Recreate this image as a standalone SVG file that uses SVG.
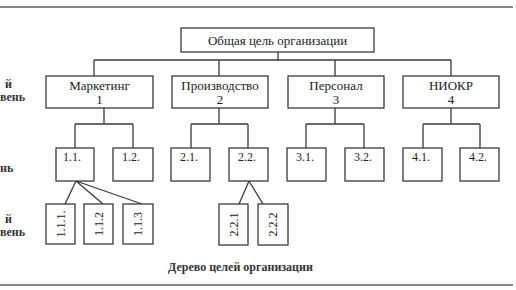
<svg xmlns="http://www.w3.org/2000/svg" width="516" height="290" viewBox="0 0 516 290">
<style>
.b{fill:#fff;stroke:#3a3a3a;stroke-width:1.3}
.c{fill:none;stroke:#3a3a3a;stroke-width:1.3}
.t{font-family:"Liberation Serif","Times New Roman",serif;font-size:13px;fill:#222;text-anchor:middle}
.s{font-family:"Liberation Serif","Times New Roman",serif;font-size:12px;fill:#222;text-anchor:middle}
.l{font-family:"Liberation Serif","Times New Roman",serif;font-size:12px;font-weight:bold;fill:#333}
.rule{stroke:#888;stroke-width:2}
</style>
<rect width="516" height="290" fill="#fff"/>
<line class="rule" x1="0" y1="7" x2="513" y2="7"/>
<line class="rule" x1="0" y1="285" x2="513" y2="285"/>
<g id="side-labels">
<text class="l" x="5" y="88">й</text>
<text class="l" x="0" y="101">вень</text>
<text class="l" x="0" y="172">нь</text>
<text class="l" x="5" y="223">й</text>
<text class="l" x="0" y="236">вень</text>
</g>
<g id="connectors">
<path class="c" d="M278 52V60M94 60H451M94 60V76M219 60V76M335 60V76M451 60V76"/>
<path class="c" d="M104 108V124M75 124H133M75 124V148M133 124V148"/>
<path class="c" d="M219 108V124M191 124H248M191 124V148M248 124V148"/>
<path class="c" d="M335 108V124M306 124H364M306 124V148M364 124V148"/>
<path class="c" d="M451 108V124M423 124H480M423 124V148M480 124V148"/>
<path class="c" d="M76 181L65 204M76 181L103 204M76 181L142 204"/>
<path class="c" d="M249 181L239 204M249 181L263 204"/>
</g>
<g id="root"><rect class="b" x="181" y="28" width="193" height="24"/><text class="t" x="277.5" y="44.5">Общая цель организации</text></g>
<g id="n1"><rect class="b" x="46" y="76" width="107" height="32"/><text class="t" x="99.5" y="90">Маркетинг</text><text class="t" x="99.5" y="104">1</text></g>
<g id="n2"><rect class="b" x="172" y="76" width="96" height="32"/><text class="t" x="220" y="90">Производство</text><text class="t" x="220" y="104">2</text></g>
<g id="n3"><rect class="b" x="288" y="76" width="96" height="32"/><text class="t" x="336" y="90">Персонал</text><text class="t" x="336" y="104">3</text></g>
<g id="n4"><rect class="b" x="403" y="76" width="96" height="32"/><text class="t" x="451" y="90">НИОКР</text><text class="t" x="451" y="104">4</text></g>
<g id="n11"><rect class="b" x="56" y="148" width="38" height="33"/><text class="s" x="72" y="161">1.1.</text></g>
<g id="n12"><rect class="b" x="113" y="148" width="40" height="33"/><text class="s" x="131" y="161">1.2.</text></g>
<g id="n21"><rect class="b" x="171" y="148" width="39" height="33"/><text class="s" x="189" y="161">2.1.</text></g>
<g id="n22"><rect class="b" x="229" y="148" width="39" height="33"/><text class="s" x="247" y="161">2.2.</text></g>
<g id="n31"><rect class="b" x="287" y="148" width="39" height="33"/><text class="s" x="305" y="161">3.1.</text></g>
<g id="n32"><rect class="b" x="345" y="148" width="39" height="33"/><text class="s" x="363" y="161">3.2.</text></g>
<g id="n41"><rect class="b" x="403" y="148" width="39" height="33"/><text class="s" x="421" y="161">4.1.</text></g>
<g id="n42"><rect class="b" x="460" y="148" width="39" height="33"/><text class="s" x="478" y="161">4.2.</text></g>
<g id="n111"><rect class="b" x="46" y="204" width="29" height="40"/><text class="s" transform="translate(64.5 224) rotate(-90)">1.1.1.</text></g>
<g id="n112"><rect class="b" x="84" y="204" width="29" height="40"/><text class="s" transform="translate(102.5 224) rotate(-90)">1.1.2</text></g>
<g id="n113"><rect class="b" x="123" y="204" width="30" height="40"/><text class="s" transform="translate(142 224) rotate(-90)">1.1.3</text></g>
<g id="n221"><rect class="b" x="219" y="204" width="29" height="41"/><text class="s" transform="translate(237.5 224.5) rotate(-90)">2.2.1</text></g>
<g id="n222"><rect class="b" x="258" y="204" width="30" height="41"/><text class="s" transform="translate(277 224.5) rotate(-90)">2.2.2</text></g>
<text class="l" x="168" y="271">Дерево целей организации</text>
</svg>
